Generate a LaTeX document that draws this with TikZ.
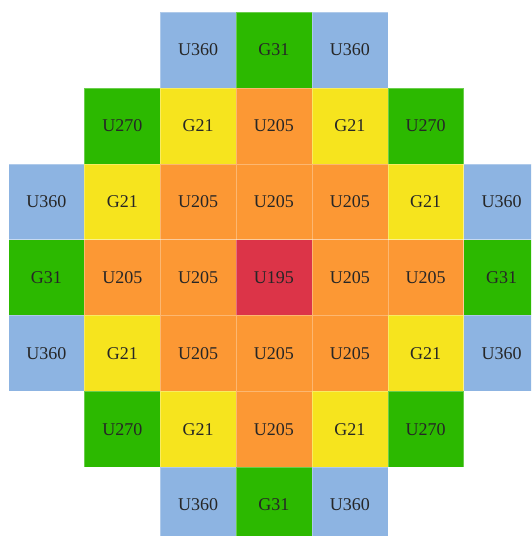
\documentclass[tikz,border=0pt]{standalone}
\usepackage{fontspec}
\setmainfont{Liberation Serif}
\definecolor{cblue}{RGB}{141,180,226}
\definecolor{cgreen}{RGB}{44,185,0}
\definecolor{cyellow}{RGB}{246,228,30}
\definecolor{corange}{RGB}{252,152,52}
\definecolor{cred}{RGB}{220,52,72}
\tikzset{
  cell/.style={minimum width=75.85pt,minimum height=75.85pt,inner sep=0pt,outer sep=0pt,
    draw=white,draw opacity=0.3,line width=0.4pt,font=\fontsize{18}{20}\selectfont,text=black!85},
  B/.style={cell,fill=cblue},
  G/.style={cell,fill=cgreen},
  Y/.style={cell,fill=cyellow},
  O/.style={cell,fill=corange},
  R/.style={cell,fill=cred}
}
\begin{document}
\begin{tikzpicture}[x=1pt,y=-1pt]
\useasboundingbox (0,0) rectangle (531,536);
\begin{scope}
\clip (0,0) rectangle (531,536);
\def\s{75.85}
\def\xo{8.5}
\def\yo{12}
% row, col, style, text
\foreach \r/\c/\st/\t in {
 0/2/B/U360, 0/3/G/G31, 0/4/B/U360,
 1/1/G/U270, 1/2/Y/G21, 1/3/O/U205, 1/4/Y/G21, 1/5/G/U270,
 2/0/B/U360, 2/1/Y/G21, 2/2/O/U205, 2/3/O/U205, 2/4/O/U205, 2/5/Y/G21, 2/6/B/U360,
 3/0/G/G31, 3/1/O/U205, 3/2/O/U205, 3/3/R/U195, 3/4/O/U205, 3/5/O/U205, 3/6/G/G31,
 4/0/B/U360, 4/1/Y/G21, 4/2/O/U205, 4/3/O/U205, 4/4/O/U205, 4/5/Y/G21, 4/6/B/U360,
 5/1/G/U270, 5/2/Y/G21, 5/3/O/U205, 5/4/Y/G21, 5/5/G/U270,
 6/2/B/U360, 6/3/G/G31, 6/4/B/U360}
{
  \node[\st] (c\r\c) at ({\xo+\s*(\c+0.5)},{\yo+\s*(\r+0.5)}) {\t};
}
\end{scope}
\end{tikzpicture}
\end{document}
